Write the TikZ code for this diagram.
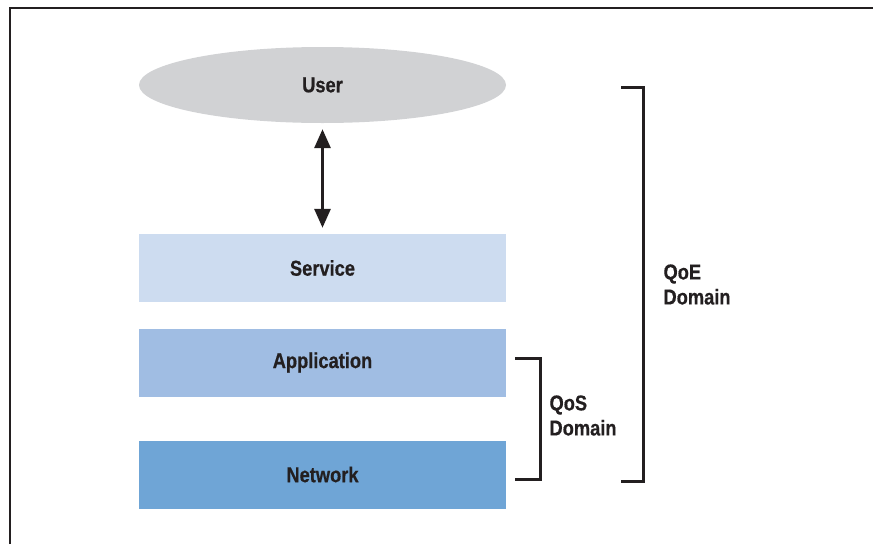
\documentclass[tikz,border=0pt]{standalone}
\usepackage{fontspec}
\setmainfont{Liberation Sans}[FakeStretch=0.85, BoldFeatures={FakeBold=0.6}]
\usetikzlibrary{arrows.meta,shapes.geometric}

\definecolor{inkgray}{RGB}{35,31,32}
\definecolor{usergray}{RGB}{209,210,212}
\definecolor{serviceblue}{RGB}{205,220,240}
\definecolor{appblue}{RGB}{160,189,227}
\definecolor{netblue}{RGB}{111,165,214}

\newcommand{\layerfont}{\fontsize{21.5}{25}\selectfont\bfseries}

\tikzset{
  layer/.style={rectangle, minimum width=367pt, minimum height=68pt,
    inner sep=0pt, font=\layerfont, text=inkgray},
  bracket/.style={line width=3pt, inkgray},
  domainlabel/.style={anchor=west, align=left, font=\layerfont, text=inkgray}
}

\begin{document}
\begin{tikzpicture}[x=1pt, y=-1pt]
  \useasboundingbox (0,0) rectangle (873,544);

  % Frame (only the left and top edges show)
  \draw[line width=2pt, inkgray] (10,544) -- (10,8) -- (873,8);

  % User and the three layers
  \node[ellipse, fill=usergray, minimum width=367pt, minimum height=76pt,
    inner sep=0pt, font=\layerfont, text=inkgray] (user) at (322.5,85) {User};
  \node[layer, fill=serviceblue] (service) at (322.5,268) {Service};
  \node[layer, fill=appblue] (application) at (322.5,362.5) {Application};
  \node[layer, fill=netblue] (network) at (322.5,474.5) {Network};

  % Interaction between user and service
  \draw[line width=3pt, inkgray, shorten <=6pt, shorten >=6pt,
    {Triangle[length=19pt,width=16pt]}-{Triangle[length=19pt,width=16pt]}]
    (user) -- (service);

  % QoS bracket
  \draw[bracket] (515,358) -- (540,358) -- (540,479) -- (515,479);
  \node[domainlabel] (qos) at (546,415.5) {QoS\\Domain};

  % QoE bracket
  \draw[bracket] (621,87) -- (643,87) -- (643,481) -- (621,481);
  \node[domainlabel] (qoe) at (660,284.5) {QoE\\Domain};
\end{tikzpicture}
\end{document}
